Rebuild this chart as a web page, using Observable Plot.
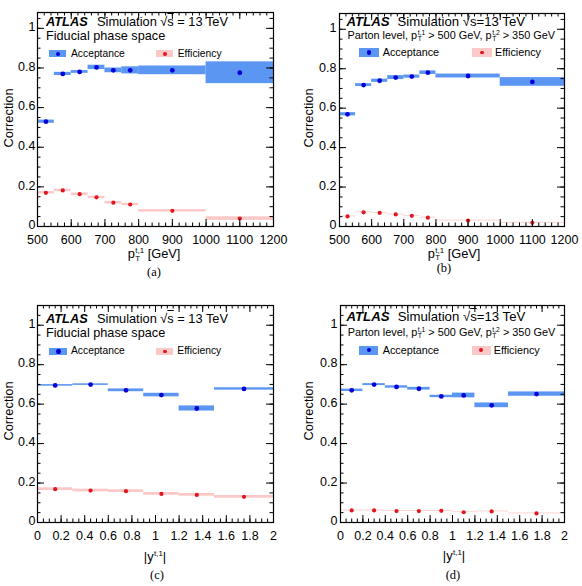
<!DOCTYPE html>
<html><head><meta charset="utf-8">
<script src="https://cdn.jsdelivr.net/npm/d3@7"></script>
<script src="https://cdn.jsdelivr.net/npm/@observablehq/plot@0.6"></script>
<style>
body{margin:0;background:#fff;}
#root{position:relative;width:582px;height:586px;font-family:"Liberation Sans",Arial,sans-serif;color:#000;overflow:hidden;}
.panel{position:absolute;width:291px;height:293px;}
.panel svg{position:absolute;left:0;top:0;}
.t{position:absolute;white-space:nowrap;line-height:1;}
.ss{display:inline-block;vertical-align:middle;font-size:0.62em;line-height:0.95;margin-left:0.5px;text-align:left}
.ss span{display:block}
.box{position:absolute}
.dot{position:absolute;border-radius:50%}
</style></head><body><div id="root"></div><script>
// ---------- data ----------
// (a) fiducial, pT(t,1)
const loA = [500,550,600,650,700,750,800,1000];
const hiA = [550,600,650,700,750,800,1000,1200];
const ctrA = [525,575,625,675,725,775,900,1100];
const accA = [0.529,0.770,0.780,0.803,0.788,0.788,0.788,0.776];
const accErrA = [0.008,0.008,0.007,0.011,0.012,0.018,0.022,0.055];
const effA = [0.170,0.182,0.163,0.147,0.120,0.111,0.079,0.040];
const effErrA = [0.006,0.006,0.006,0.006,0.006,0.006,0.006,0.009];
// (b) parton, pT(t,1)
const loB = [500,550,600,650,700,750,800,1000];
const hiB = [550,600,650,700,750,800,1000,1200];
const ctrB = [525,575,625,675,725,775,900,1100];
const accB = [0.569,0.717,0.739,0.755,0.760,0.780,0.763,0.733];
const accErrB = [0.008,0.007,0.008,0.010,0.008,0.009,0.010,0.022];
const effB = [0.051,0.072,0.069,0.061,0.054,0.045,0.030,0.019];
const effErrB = [0.002,0.002,0.002,0.002,0.002,0.002,0.002,0.002];
// (c) fiducial, |y(t,1)|
const loC = [0,0.3,0.6,0.9,1.2,1.5];
const hiC = [0.3,0.6,0.9,1.2,1.5,2.0];
const ctrC = [0.15,0.45,0.75,1.05,1.35,1.75];
const accC = [0.695,0.699,0.670,0.646,0.578,0.677];
const accErrC = [0.004,0.004,0.007,0.009,0.013,0.006];
const effC = [0.169,0.162,0.159,0.145,0.140,0.130];
const effErrC = [0.007,0.007,0.007,0.007,0.007,0.007];
// (d) parton, |y(t,1)|
const loD = [0,0.2,0.4,0.6,0.8,1.0,1.2,1.5];
const hiD = [0.2,0.4,0.6,0.8,1.0,1.2,1.5,2.0];
const ctrD = [0.1,0.3,0.5,0.7,0.9,1.1,1.35,1.75];
const accD = [0.670,0.699,0.687,0.678,0.639,0.644,0.594,0.651];
const accErrD = [0.006,0.005,0.006,0.007,0.006,0.012,0.012,0.011];
const effD = [0.061,0.061,0.058,0.058,0.059,0.052,0.056,0.046];
const effErrD = [0.002,0.002,0.002,0.002,0.002,0.002,0.002,0.002];

// tick labels
const xTicksPt = [500,600,700,800,900,1000,1100,1200];
const xTicksY = [0,0.2,0.4,0.6,0.8,1,1.2,1.4,1.6,1.8,2];
const yTicks = [0,0.2,0.4,0.6,0.8,1];
const xMinorPt = d3.range(0,36).map(i => 500 + i*20);
const xMinorY = d3.range(0,41).map(i => +(i*0.05).toFixed(2));
const yMinor = d3.range(0,22).map(i => +(i*0.05).toFixed(2));

const ACC_BAND = "#5b96f2", ACC_DOT = "#0000d8";
const EFF_BAND = "#fcc8c8", EFF_DOT = "#e3141b";
const FONT = "'Liberation Sans', Arial, sans-serif";
const SERIF = "'Liberation Serif', 'Times New Roman', serif";

const root = document.getElementById("root");

function addText(panel, html, x, base, size, opts = {}) {
  const d = document.createElement("div");
  d.className = "t";
  d.innerHTML = html;
  d.style.fontSize = size + "px";
  d.style.left = x + "px";
  d.style.top = (base - 0.847*size) + "px";
  if (opts.center) d.style.transform = "translateX(-50%)";
  if (opts.font) d.style.fontFamily = opts.font;
  panel.appendChild(d);
  return d;
}
function addRotated(panel, text, cx, cy, size) {
  const d = document.createElement("div");
  d.className = "t";
  d.textContent = text;
  d.style.fontSize = size + "px";
  d.style.left = cx + "px";
  d.style.top = cy + "px";
  d.style.transform = "translate(-50%,-50%) rotate(-90deg)";
  panel.appendChild(d);
}
function addLegend(panel, x1, x2, yc, h, band, dot, r, label, tx, size) {
  const b = document.createElement("div");
  b.className = "box";
  Object.assign(b.style, {left: x1+"px", top: (yc-h/2)+"px", width: (x2-x1)+"px", height: h+"px", background: band});
  panel.appendChild(b);
  const d = document.createElement("div");
  d.className = "dot";
  const cx = (x1+x2)/2;
  Object.assign(d.style, {left: (cx-r)+"px", top: (yc-r)+"px", width: 2*r+"px", height: 2*r+"px", background: dot});
  panel.appendChild(d);
  addText(panel, label, tx, yc + 0.35*size, size);
}
const pT = (n) => `p<span class="ss"><span>t,${n}</span><span>T</span></span>`;
const sqrtS = `√<span style="text-decoration:overline">s</span>`;

function buildPanel(p) {
  const W = 291, H = 293;
  const innerW = W - p.ml - p.mr, innerH = H - p.mt - p.mb;
  const acc = p.lo.map((lo,i) => ({x1: lo, x2: p.hi[i], xc: p.ctr[i], v: p.acc[i], e: p.accErr[i]}));
  const eff = p.lo.map((lo,i) => ({x1: lo, x2: p.hi[i], xc: p.ctr[i], v: p.eff[i], e: p.effErr[i]}));
  const M = 7, m = 3.5;
  const svg = Plot.plot({
    width: W, height: H,
    marginLeft: p.ml, marginRight: p.mr, marginTop: p.mt, marginBottom: p.mb,
    x: {domain: p.xDomain, label: null},
    y: {domain: [0, p.yMax], label: null},
    style: {fontFamily: FONT, fontSize: "12.5px", color: "#000", background: "transparent", overflow: "visible"},
    marks: [
      Plot.rect(eff, {x1: "x1", x2: "x2", y1: d => d.v - d.e, y2: d => d.v + d.e, fill: EFF_BAND}),
      Plot.rect(acc, {x1: "x1", x2: "x2", y1: d => d.v - d.e, y2: d => d.v + d.e, fill: ACC_BAND}),
      Plot.dot(eff, {x: "xc", y: "v", r: 2.1, fill: EFF_DOT}),
      Plot.dot(acc, {x: "xc", y: "v", r: 2.4, fill: ACC_DOT}),
      Plot.tickX(p.xMinor, {x: d => d, insetTop: innerH - m, stroke: "#000"}),
      Plot.tickX(p.xMinor, {x: d => d, insetBottom: innerH - m, stroke: "#000"}),
      Plot.tickX(p.xMajor, {x: d => d, insetTop: innerH - M, stroke: "#000"}),
      Plot.tickX(p.xMajor, {x: d => d, insetBottom: innerH - M, stroke: "#000"}),
      Plot.tickY(yMinor, {y: d => d, insetRight: innerW - m, stroke: "#000"}),
      Plot.tickY(yMinor, {y: d => d, insetLeft: innerW - m, stroke: "#000"}),
      Plot.tickY(yTicks, {y: d => d, insetRight: innerW - M, stroke: "#000"}),
      Plot.tickY(yTicks, {y: d => d, insetLeft: innerW - M, stroke: "#000"}),
      Plot.frame({stroke: "#000", strokeWidth: 1.2}),
      Plot.axisX({ticks: p.xMajor, tickSize: 0, tickPadding: 8.5, tickFormat: d => String(d), label: null}),
      Plot.axisY({ticks: yTicks, tickSize: 0, tickPadding: p.yPad, dy: -1.2, tickFormat: d => String(d), label: null})
    ]
  });
  const panel = document.createElement("div");
  panel.className = "panel";
  panel.style.left = p.left + "px";
  panel.style.top = p.top + "px";
  panel.appendChild(svg);
  root.appendChild(panel);
  return panel;
}

// ----- (a) -----
{
  const P = buildPanel({left: 0, top: 0, ml: 37, mr: 18, mt: 12, mb: 67, yMax: 1.08, yPad: 2,
    xDomain: [500,1200], xMajor: xTicksPt, xMinor: xMinorPt,
    lo: loA, hi: hiA, ctr: ctrA, acc: accA, accErr: accErrA, eff: effA, effErr: effErrA});
  addText(P, `<b><i>ATLAS</i></b>`, 46, 26.7, 12.8);
  addText(P, `Simulation ${sqrtS} = 13 TeV`, 97, 26.7, 12.8);
  addText(P, `Fiducial phase space`, 46, 40.7, 12.7);
  addLegend(P, 49.3, 66.5, 53.8, 6.8, ACC_BAND, ACC_DOT, 2.2, "Acceptance", 71, 10.3);
  addLegend(P, 156, 173.3, 53.8, 6.8, EFF_BAND, EFF_DOT, 1.9, "Efficiency", 177.7, 10.3);
  addRotated(P, "Correction", 9, 118, 12.8);
  addText(P, `${pT(1)} [GeV]`, 154, 258, 12.8, {center: true});
  addText(P, `(a)`, 154, 277, 12.5, {center: true, font: SERIF});
}
// ----- (b) -----
{
  const P = buildPanel({left: 291, top: 0, ml: 48, mr: 18, mt: 13, mb: 67, yMax: 1.08, yPad: 3,
    xDomain: [500,1200], xMajor: xTicksPt, xMinor: xMinorPt,
    lo: loB, hi: hiB, ctr: ctrB, acc: accB, accErr: accErrB, eff: effB, effErr: effErrB});
  addText(P, `<b><i>ATLAS</i></b>`, 55.5, 25.7, 13.2);
  addText(P, `Simulation ${sqrtS}=13 TeV`, 106.5, 25.7, 13.2);
  addText(P, `Parton level, ${pT(1)} &gt; 500 GeV, ${pT(2)} &gt; 350 GeV`, 56.5, 39.3, 10.9);
  addLegend(P, 68.3, 88.3, 52.5, 9.5, ACC_BAND, ACC_DOT, 2.2, "Acceptance", 91.7, 10.8);
  addLegend(P, 180.7, 200.7, 52.5, 9.5, EFF_BAND, EFF_DOT, 1.9, "Efficiency", 204, 10.8);
  addRotated(P, "Correction", 17.5, 118, 12.8);
  addText(P, `${pT(1)} [GeV]`, 163, 257.5, 12.8, {center: true});
  addText(P, `(b)`, 153, 273, 12.5, {center: true, font: SERIF});
}
// ----- (c) -----
{
  const P = buildPanel({left: 0, top: 293, ml: 37, mr: 18, mt: 12, mb: 64, yMax: 1.10, yPad: 2,
    xDomain: [0,2], xMajor: xTicksY, xMinor: xMinorY,
    lo: loC, hi: hiC, ctr: ctrC, acc: accC, accErr: accErrC, eff: effC, effErr: effErrC});
  addText(P, `<b><i>ATLAS</i></b>`, 46, 30.5, 12.8);
  addText(P, `Simulation ${sqrtS} = 13 TeV`, 97, 30.5, 12.8);
  addText(P, `Fiducial phase space`, 46, 44.3, 12.7);
  addLegend(P, 49.3, 67.5, 58.5, 7, ACC_BAND, ACC_DOT, 2.2, "Acceptance", 71, 10.3);
  addLegend(P, 156, 173.3, 58.5, 7, EFF_BAND, EFF_DOT, 1.9, "Efficiency", 177.3, 10.3);
  addRotated(P, "Correction", 9, 118, 12.8);
  addText(P, `|y<span class="ss"><span>t,1</span><span>&nbsp;</span></span>|`, 155, 268, 12.8, {center: true});
  addText(P, `(c)`, 157, 287, 12.5, {center: true, font: SERIF});
}
// ----- (d) -----
{
  const P = buildPanel({left: 291, top: 293, ml: 49, mr: 18, mt: 12, mb: 64, yMax: 1.10, yPad: 3,
    xDomain: [0,2], xMajor: xTicksY, xMinor: xMinorY,
    lo: loD, hi: hiD, ctr: ctrD, acc: accD, accErr: accErrD, eff: effD, effErr: effErrD});
  addText(P, `<b><i>ATLAS</i></b>`, 55.5, 27.7, 13.2);
  addText(P, `Simulation ${sqrtS}=13 TeV`, 106.7, 27.7, 13.2);
  addText(P, `Parton level, ${pT(1)} &gt; 500 GeV, ${pT(2)} &gt; 350 GeV`, 56.7, 43.3, 10.9);
  addLegend(P, 68.3, 87.3, 57.3, 9.3, ACC_BAND, ACC_DOT, 2.2, "Acceptance", 91.7, 10.8);
  addLegend(P, 181, 199.5, 57.3, 9.3, EFF_BAND, EFF_DOT, 1.9, "Efficiency", 202.7, 10.8);
  addRotated(P, "Correction", 18, 118, 12.8);
  addText(P, `|y<span class="ss"><span>t,1</span><span>&nbsp;</span></span>|`, 163, 267, 12.8, {center: true});
  addText(P, `(d)`, 162, 287, 12.5, {center: true, font: SERIF});
}
</script></body></html>
